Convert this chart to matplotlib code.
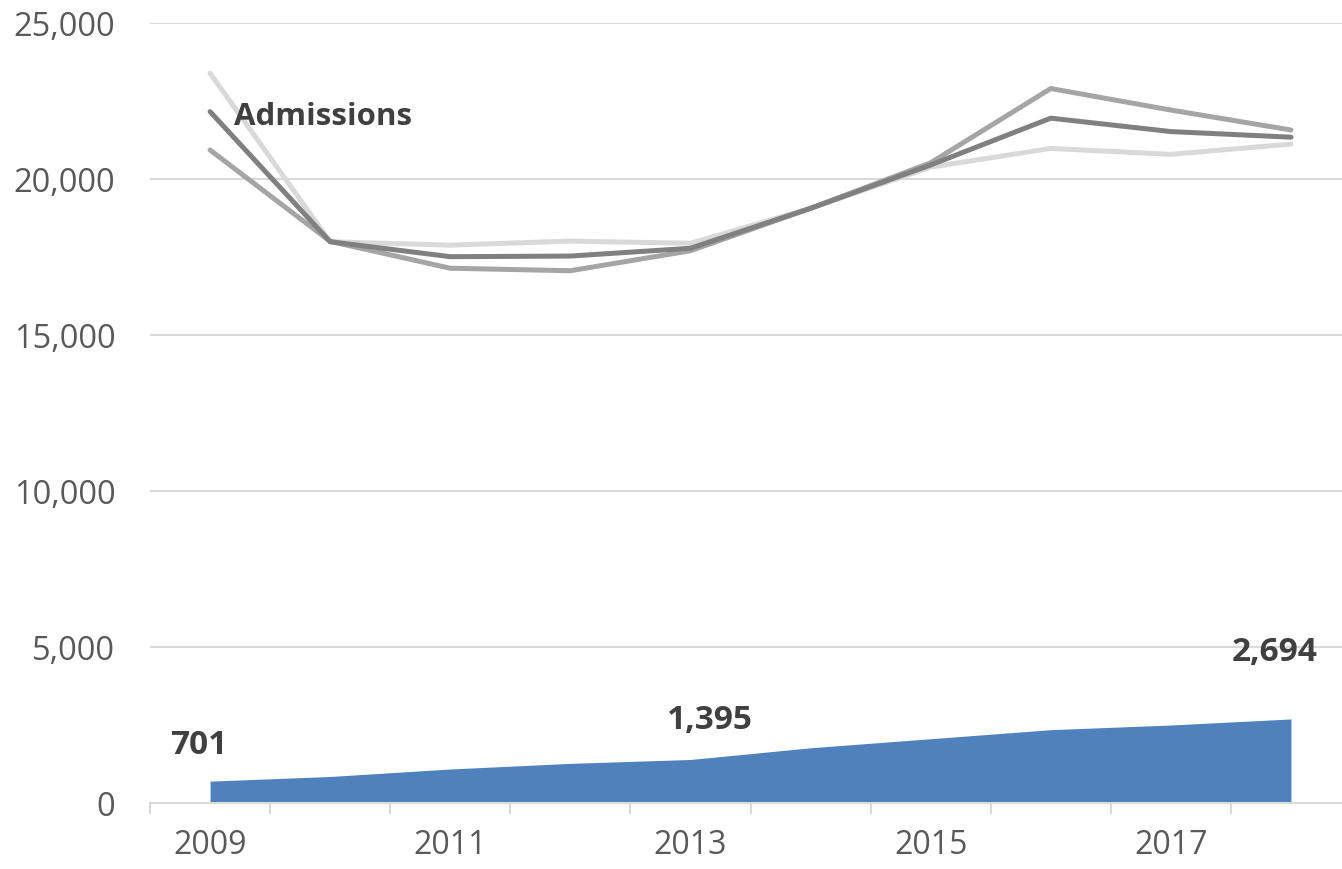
import numpy as np
import matplotlib.pyplot as plt

years = [2009, 2010, 2011, 2012, 2013, 2014, 2015, 2016, 2017, 2018]

# three admissions series (grey lines)
admissions_light = [23390, 17990, 17880, 18010, 17940, 19060, 20380, 20980, 20790, 21120]
admissions_mid = [20930, 18000, 17140, 17060, 17700, 19060, 20520, 22900, 22210, 21570]
admissions_dark = [22160, 17990, 17510, 17530, 17780, 19060, 20450, 21950, 21520, 21340]

# area series
area_values = [701, 850, 1090, 1270, 1395, 1770, 2060, 2350, 2500, 2694]
labelled = [0, 4, 9]

plt.rcParams['font.family'] = ['Open Sans', 'DejaVu Sans']

fig = plt.figure(figsize=(13.42, 8.69), dpi=100)
ax = fig.add_axes([150 / 1342, 66 / 869, 1 - 150 / 1342, 780 / 869])

x = np.arange(len(years))

ax.fill_between(x, 0, area_values, color="#4f81bd", linewidth=0, zorder=2)

ax.plot(x, admissions_light, color="#d9d9d9", linewidth=3.6, solid_capstyle="round", zorder=3)
ax.plot(x, admissions_mid, color="#a5a5a5", linewidth=3.6, solid_capstyle="round", zorder=4)
ax.plot(x, admissions_dark, color="#808080", linewidth=3.6, solid_capstyle="round", zorder=5)

ax.text(0.2, 22000, "Admissions", fontsize=22.5, fontweight="bold", color="#404040",
        ha="left", va="center", zorder=6)

offsets = {0: (-8, 26), 4: (14, 28), 9: (-12, 48)}
for i in labelled:
    ax.annotate(f"{area_values[i]:,}", xy=(x[i], area_values[i]), xytext=offsets[i],
                textcoords="offset points", ha="center", va="center",
                fontsize=24, fontweight="bold", color="#404040")

ax.set_xlim(-0.5, 9.425)
ax.set_ylim(0, 25000)

ax.set_yticks(np.arange(0, 25001, 5000))
ax.set_yticklabels([f"{v:,}" for v in range(0, 25001, 5000)])
ax.yaxis.grid(True, color="#d9d9d9", linewidth=1.5)
ax.set_axisbelow(True)
ax.tick_params(axis="y", length=0, pad=25, labelsize=23.5, labelcolor="#595959")

ax.set_xticks(x[::2])
ax.set_xticklabels([str(y) for y in years[::2]])
ax.set_xticks(np.arange(-0.5, 9.5, 1), minor=True)
ax.tick_params(axis="x", which="major", length=0, pad=19, labelsize=23, labelcolor="#595959")
ax.tick_params(axis="x", which="minor", length=8, width=1.5, color="#d9d9d9")

for s in ["top", "right", "left"]:
    ax.spines[s].set_visible(False)
ax.spines["bottom"].set_color("#d9d9d9")
ax.spines["bottom"].set_linewidth(1.5)

fig.savefig("out.png", dpi=100)
